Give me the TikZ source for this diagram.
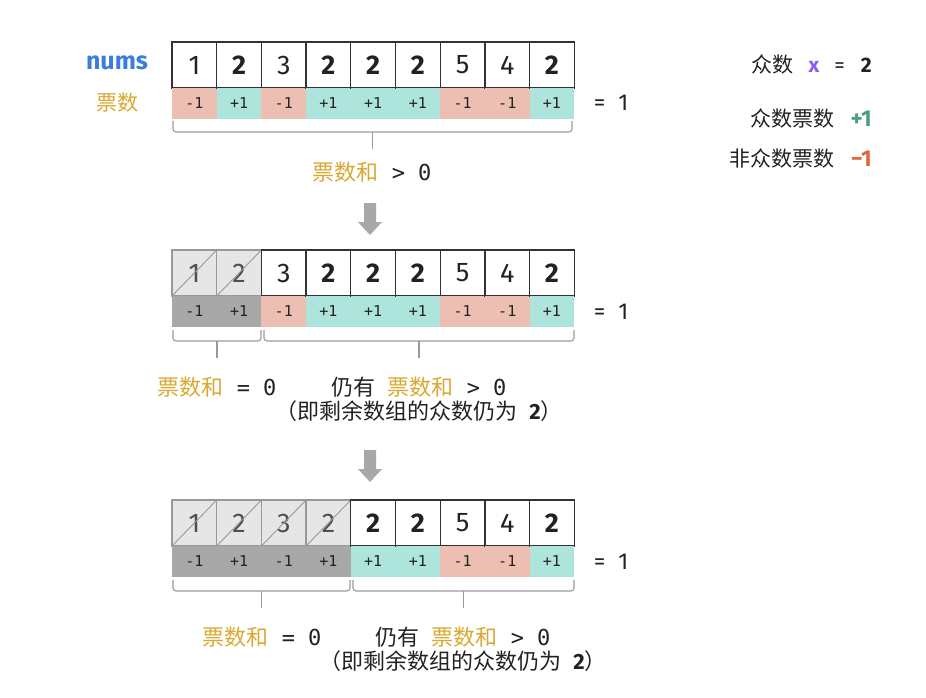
\documentclass[tikz,border=0pt]{standalone}
\usepackage{fontspec}
\setmainfont{Fira Sans}
\setmonofont{DejaVu Sans Mono}
\newfontfamily\cjkf{Noto Sans CJK SC}
\definecolor{votered}{HTML}{EDBFB2}
\definecolor{votegreen}{HTML}{ADE4DC}
\definecolor{delvote}{HTML}{A8A8A8}
\definecolor{delfill}{HTML}{E6E6E6}
\definecolor{delline}{HTML}{999999}
\definecolor{cellline}{HTML}{333333}
\definecolor{gold}{HTML}{D9A931}
\definecolor{numsblue}{HTML}{3A7DDF}
\definecolor{xpurple}{HTML}{8B5CF6}
\definecolor{plusgreen}{HTML}{4A9F8A}
\definecolor{minusorange}{HTML}{E0663A}
\definecolor{bracegray}{HTML}{9A9A9A}
\definecolor{arrowgray}{HTML}{A8A8A8}
\definecolor{txt}{HTML}{222222}
\newcommand{\gold}[1]{{\cjkf\color{gold}#1}}
\newcommand{\cj}[1]{{\cjkf #1}}
\newcommand{\mono}[1]{{\ttfamily #1}}
\tikzset{
  numcell/.style={draw=cellline, line width=1.3pt, minimum width=44.7pt, minimum height=46pt,
    inner sep=0pt, text=txt, font=\fontsize{27}{27}\selectfont},
  delcell/.style={numcell, draw=delline, fill=delfill, text=txt!80},
  votecell/.style={minimum width=44.7pt, minimum height=31pt, inner sep=0pt, text=txt,
    font=\ttfamily\fontsize{15}{15}\selectfont},
  bracestyle/.style={draw=bracegray, line width=1.1pt},
  lbl/.style={inner sep=0pt, text=txt, font=\fontsize{22}{26}\selectfont},
  eqlbl/.style={inner sep=0pt, text=txt, font=\fontsize{23}{23}\selectfont},
  legend/.style={inner sep=0pt, anchor=east, text=txt, font=\fontsize{21}{25}\selectfont},
  blockarrow/.style={fill=arrowgray, draw=none}
}
% #1 prefix, #2 top y, #3 number of removed cells
\newcommand{\arrayrow}[3]{%
  \foreach \v/\b [count=\i] in {1/0,2/1,3/0,2/1,2/1,2/1,5/0,4/0,2/1}{%
    \pgfmathsetmacro\cx{172+44.7*(\i-0.5)}%
    \ifnum\b=1 \def\vfill{votegreen}\def\vtxt{+1}\else\def\vfill{votered}\def\vtxt{-1}\fi
    \ifnum\i>#3
      \node[numcell] (#1n\i) at (\cx,#2+23) {\ifnum\b=1 \bfseries\fi\v};
      \node[votecell, fill=\vfill] (#1v\i) at (\cx,#2+61.5) {\vtxt};
    \else
      \node[delcell] (#1n\i) at (\cx,#2+23) {\v};
      \draw[delline, line width=0.9pt] (#1n\i.south west) -- (#1n\i.north east);
      \node[votecell, fill=delvote] (#1v\i) at (\cx,#2+61.5) {\vtxt};
    \fi
  }%
}
% #1 xL, #2 xR, #3 y top
\newcommand{\bracket}[3]{%
  \draw[bracestyle, rounded corners=3pt] (#1,#3) -- (#1,#3+11) -- (#2,#3+11) -- (#2,#3);
  \draw[bracestyle] ({(#1+#2)/2},#3+11) -- ({(#1+#2)/2},#3+28);
}
% #1 x centre, #2 y top
\newcommand{\grayarrow}[2]{%
  \fill[blockarrow] (#1-6,#2) -- (#1+6,#2) -- (#1+6,#2+19) -- (#1+12,#2+19) -- (#1,#2+32)
    -- (#1-12,#2+19) -- (#1-6,#2+19) -- cycle;
}
\newcommand{\gap}{\hspace{12pt}}
\begin{document}
\begin{tikzpicture}[x=1pt,y=-1pt]
\useasboundingbox (0,0) rectangle (926,698);
\fill[white] (0,0) rectangle (926,698);

% row 1
\node[inner sep=0pt, text=numsblue, font=\bfseries\fontsize{25}{25}\selectfont] (nums) at (117,63) {nums};
\node[inner sep=0pt, font=\fontsize{21}{21}\selectfont] (piao) at (117,103) {\gold{票数}};
\arrayrow{a}{42}{0}
\node[eqlbl] (eq1) at (611,103) {=\hspace{13pt}1};
\bracket{173}{572}{121}
\node[lbl] (s1) at (372,172) {\gold{票数和}\mono{ > 0}};

\grayarrow{370}{203}

% row 2
\arrayrow{b}{250}{2}
\node[eqlbl] (eq2) at (611,312) {=\hspace{13pt}1};
\bracket{173}{261}{330}
\bracket{264}{574}{330}
\node[lbl] (s2a) at (217,387) {\gold{票数和}\mono{ = 0}};
\node[lbl] (s2b) at (419,387) {\cj{仍有}\gap\gold{票数和}\mono{ > 0}};
\node[lbl] (s2c) at (419,411) {\cj{（即剩余数组的众数仍为}\gap\textbf{2}\cj{）}};

\grayarrow{370}{450}

% row 3
\arrayrow{c}{500}{4}
\node[eqlbl] (eq3) at (611,562) {=\hspace{13pt}1};
\bracket{173}{350}{580}
\bracket{353}{574}{580}
\node[lbl] (s3a) at (262,637) {\gold{票数和}\mono{ = 0}};
\node[lbl] (s3b) at (463,637) {\cj{仍有}\gap\gold{票数和}\mono{ > 0}};
\node[lbl] (s3c) at (463,661) {\cj{（即剩余数组的众数仍为}\gap\textbf{2}\cj{）}};

% legend
\node[legend] (lg1) at (872,64) {\cj{众数}\hspace{15pt}{\bfseries\color{xpurple}x}\hspace{15pt}=\hspace{16pt}\textbf{2}};
\node[legend] (lg2) at (872,118) {\cj{众数票数}\hspace{16pt}{\bfseries\fontsize{23}{23}\selectfont\color{plusgreen}+1}};
\node[legend] (lg3) at (872,158) {\cj{非众数票数}\hspace{16pt}{\bfseries\fontsize{23}{23}\selectfont\color{minusorange}\textminus 1}};
\end{tikzpicture}
\end{document}
